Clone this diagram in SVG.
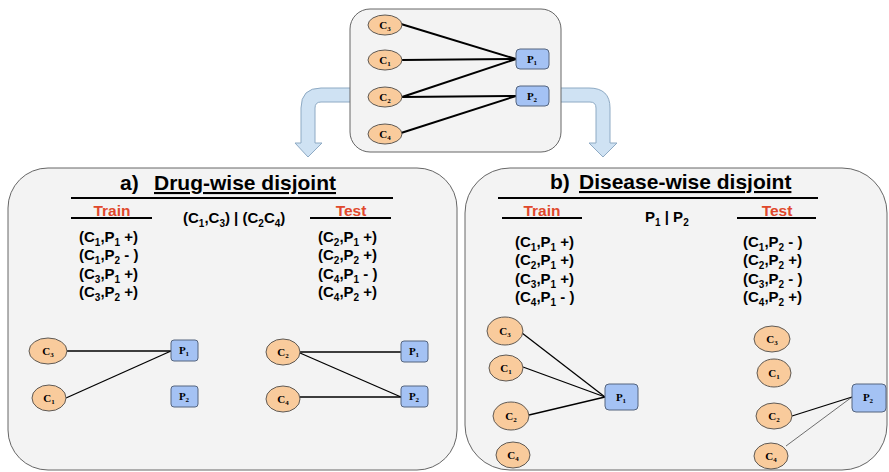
<svg xmlns="http://www.w3.org/2000/svg" width="889" height="472" viewBox="0 0 889 472">
<style>
.panel{fill:#f3f3f3;stroke:#666;stroke-width:1}
.arrow{fill:#cfe2f3;stroke:#8eaac4;stroke-width:1}
.ell{fill:#f9cb9c;stroke:#5f5a55;stroke-width:1}
.box{fill:#a4c2f4;stroke:#55657f;stroke-width:1}
.nl{font-family:"Liberation Serif","Times New Roman",serif;font-weight:bold;font-size:11px;fill:#000;text-anchor:middle}
.s{font-size:7px}
.lst{font-family:"Liberation Sans",Arial,sans-serif;font-weight:bold;font-size:15px;fill:#000}
.sb{font-size:10px}
.hdr{font-family:"Liberation Sans",Arial,sans-serif;font-weight:bold;font-size:21px;fill:#000}
.u{text-decoration:underline}
.red{font-family:"Liberation Sans",Arial,sans-serif;font-weight:bold;font-size:15.5px;fill:#e0482c;text-anchor:middle}
.rule{stroke:#000;stroke-width:2}
.e1{stroke:#000;stroke-width:2;fill:none}
.e2{stroke:#000;stroke-width:1.3;fill:none}
.e3{stroke:#333;stroke-width:0.7;fill:none}
</style>

<!-- panels and arrows -->
<g id="arrows">
<path class="arrow" d="M352,88 L321,88 Q301,88 301,108 L301,143 L295,143 L308,157 L322,143 L315,143 L315,108 Q315,102 321,102 L352,102 Z"/>
<path class="arrow" d="M559,88 L589,88 Q610,88 610,108 L610,143 L617,143 L603,157 L589,143 L596,143 L596,108 Q596,102 590,102 L559,102 Z"/>
</g>
<rect id="top-box" class="panel" x="350" y="9" width="211" height="143" rx="20"/>
<rect id="panel-a" class="panel" x="8" y="168" width="449" height="302" rx="40"/>
<rect id="panel-b" class="panel" x="465" y="168" width="422" height="302" rx="45"/>

<!-- connectors -->
<g id="connectors">
<line class="e1" x1="401" y1="24" x2="516" y2="59"/>
<line class="e1" x1="402" y1="60" x2="516" y2="59"/>
<line class="e1" x1="402" y1="97" x2="516" y2="59"/>
<line class="e1" x1="402" y1="97" x2="516" y2="96"/>
<line class="e1" x1="401" y1="133" x2="516" y2="96"/>

<line class="e2" x1="67" y1="351" x2="171" y2="351"/>
<line class="e2" x1="66" y1="398" x2="171" y2="351"/>
<line class="e2" x1="300" y1="352" x2="401" y2="352"/>
<line class="e2" x1="300" y1="353" x2="401" y2="397"/>
<line class="e2" x1="300" y1="397" x2="401" y2="397"/>

<line class="e2" x1="522" y1="333" x2="605" y2="397"/>
<line class="e2" x1="523" y1="367" x2="605" y2="397"/>
<line class="e2" x1="529" y1="415" x2="605" y2="397"/>
<line class="e2" x1="792" y1="416" x2="852" y2="397"/>
<line class="e3" x1="786" y1="446" x2="852" y2="397"/>
</g>

<!-- top graph nodes -->
<g id="top-C3"><ellipse class="ell" cx="385" cy="25" rx="17" ry="10"/><text class="nl" x="385" y="28.5">C<tspan class="s" dy="2">3</tspan></text></g>
<g id="top-C1"><ellipse class="ell" cx="385" cy="60" rx="17" ry="10"/><text class="nl" x="385" y="63.5">C<tspan class="s" dy="2">1</tspan></text></g>
<g id="top-C2"><ellipse class="ell" cx="385" cy="97" rx="17" ry="10"/><text class="nl" x="385" y="100.5">C<tspan class="s" dy="2">2</tspan></text></g>
<g id="top-C4"><ellipse class="ell" cx="385" cy="134" rx="17" ry="10"/><text class="nl" x="385" y="137.5">C<tspan class="s" dy="2">4</tspan></text></g>
<g id="top-P1"><rect class="box" x="516" y="49" width="33" height="20" rx="4"/><text class="nl" x="532" y="62.5">P<tspan class="s" dy="2">1</tspan></text></g>
<g id="top-P2"><rect class="box" x="516" y="86" width="33" height="20" rx="4"/><text class="nl" x="532" y="99.5">P<tspan class="s" dy="2">2</tspan></text></g>

<!-- panel a text -->
<g id="a-header">
<text class="hdr" x="120" y="190">a)</text>
<text class="hdr u" x="154" y="190">Drug-wise disjoint</text>
<line class="rule" x1="71" y1="198" x2="393" y2="198"/>
<text class="red" x="112" y="216">Train</text>
<line class="rule" x1="71" y1="218" x2="152" y2="218"/>
<text class="red" x="351" y="216">Test</text>
<line class="rule" x1="310" y1="218" x2="391" y2="218"/>
<text class="lst" x="183" y="223">(C<tspan class="sb" dy="4">1</tspan><tspan dy="-4">,C</tspan><tspan class="sb" dy="4">3</tspan><tspan dy="-4">) | (C</tspan><tspan class="sb" dy="4">2</tspan><tspan dy="-4">C</tspan><tspan class="sb" dy="4">4</tspan><tspan dy="-4">)</tspan></text>
</g>
<g id="a-train-list">
<text class="lst" x="79" y="242">(C<tspan class="sb" dy="4">1</tspan><tspan dy="-4">,P</tspan><tspan class="sb" dy="4">1</tspan><tspan dy="-4"> +)</tspan></text>
<text class="lst" x="79" y="260">(C<tspan class="sb" dy="4">1</tspan><tspan dy="-4">,P</tspan><tspan class="sb" dy="4">2</tspan><tspan dy="-4"> - )</tspan></text>
<text class="lst" x="79" y="279">(C<tspan class="sb" dy="4">3</tspan><tspan dy="-4">,P</tspan><tspan class="sb" dy="4">1</tspan><tspan dy="-4"> +)</tspan></text>
<text class="lst" x="79" y="297">(C<tspan class="sb" dy="4">3</tspan><tspan dy="-4">,P</tspan><tspan class="sb" dy="4">2</tspan><tspan dy="-4"> +)</tspan></text>
</g>
<g id="a-test-list">
<text class="lst" x="318" y="242">(C<tspan class="sb" dy="4">2</tspan><tspan dy="-4">,P</tspan><tspan class="sb" dy="4">1</tspan><tspan dy="-4"> +)</tspan></text>
<text class="lst" x="318" y="260">(C<tspan class="sb" dy="4">2</tspan><tspan dy="-4">,P</tspan><tspan class="sb" dy="4">2</tspan><tspan dy="-4"> +)</tspan></text>
<text class="lst" x="318" y="279">(C<tspan class="sb" dy="4">4</tspan><tspan dy="-4">,P</tspan><tspan class="sb" dy="4">1</tspan><tspan dy="-4"> - )</tspan></text>
<text class="lst" x="318" y="297">(C<tspan class="sb" dy="4">4</tspan><tspan dy="-4">,P</tspan><tspan class="sb" dy="4">2</tspan><tspan dy="-4"> +)</tspan></text>
</g>

<!-- panel a nodes -->
<g id="a-train-C3"><ellipse class="ell" cx="48" cy="351" rx="19" ry="13"/><text class="nl" x="48" y="354.5">C<tspan class="s" dy="2">3</tspan></text></g>
<g id="a-train-C1"><ellipse class="ell" cx="49" cy="398" rx="17" ry="13"/><text class="nl" x="49" y="401.5">C<tspan class="s" dy="2">1</tspan></text></g>
<g id="a-train-P1"><rect class="box" x="171" y="340" width="27" height="21" rx="3"/><text class="nl" x="184" y="353.5">P<tspan class="s" dy="2">1</tspan></text></g>
<g id="a-train-P2"><rect class="box" x="171" y="386" width="27" height="21" rx="3"/><text class="nl" x="184" y="399.5">P<tspan class="s" dy="2">2</tspan></text></g>
<g id="a-test-C2"><ellipse class="ell" cx="283" cy="352" rx="17" ry="13"/><text class="nl" x="283" y="355.5">C<tspan class="s" dy="2">2</tspan></text></g>
<g id="a-test-C4"><ellipse class="ell" cx="283" cy="399" rx="17" ry="13"/><text class="nl" x="283" y="402.5">C<tspan class="s" dy="2">4</tspan></text></g>
<g id="a-test-P1"><rect class="box" x="401" y="341" width="27" height="21" rx="3"/><text class="nl" x="414" y="354.5">P<tspan class="s" dy="2">1</tspan></text></g>
<g id="a-test-P2"><rect class="box" x="401" y="386" width="27" height="21" rx="3"/><text class="nl" x="414" y="399.5">P<tspan class="s" dy="2">2</tspan></text></g>

<!-- panel b text -->
<g id="b-header">
<text class="hdr" x="550" y="189">b)</text>
<text class="hdr u" x="579" y="189">Disease-wise disjoint</text>
<line class="rule" x1="498" y1="198" x2="818" y2="198"/>
<text class="red" x="542" y="216">Train</text>
<line class="rule" x1="502" y1="218" x2="582" y2="218"/>
<text class="red" x="777" y="216">Test</text>
<line class="rule" x1="737" y1="218" x2="816" y2="218"/>
<text class="lst" x="645" y="222">P<tspan class="sb" dy="4">1</tspan><tspan dy="-4"> | P</tspan><tspan class="sb" dy="4">2</tspan></text>
</g>
<g id="b-train-list">
<text class="lst" x="515" y="247">(C<tspan class="sb" dy="4">1</tspan><tspan dy="-4">,P</tspan><tspan class="sb" dy="4">1</tspan><tspan dy="-4"> +)</tspan></text>
<text class="lst" x="515" y="265">(C<tspan class="sb" dy="4">2</tspan><tspan dy="-4">,P</tspan><tspan class="sb" dy="4">1</tspan><tspan dy="-4"> +)</tspan></text>
<text class="lst" x="515" y="284">(C<tspan class="sb" dy="4">3</tspan><tspan dy="-4">,P</tspan><tspan class="sb" dy="4">1</tspan><tspan dy="-4"> +)</tspan></text>
<text class="lst" x="515" y="302">(C<tspan class="sb" dy="4">4</tspan><tspan dy="-4">,P</tspan><tspan class="sb" dy="4">1</tspan><tspan dy="-4"> - )</tspan></text>
</g>
<g id="b-test-list">
<text class="lst" x="743" y="247">(C<tspan class="sb" dy="4">1</tspan><tspan dy="-4">,P</tspan><tspan class="sb" dy="4">2</tspan><tspan dy="-4"> - )</tspan></text>
<text class="lst" x="743" y="265">(C<tspan class="sb" dy="4">2</tspan><tspan dy="-4">,P</tspan><tspan class="sb" dy="4">2</tspan><tspan dy="-4"> +)</tspan></text>
<text class="lst" x="743" y="284">(C<tspan class="sb" dy="4">3</tspan><tspan dy="-4">,P</tspan><tspan class="sb" dy="4">2</tspan><tspan dy="-4"> - )</tspan></text>
<text class="lst" x="743" y="302">(C<tspan class="sb" dy="4">4</tspan><tspan dy="-4">,P</tspan><tspan class="sb" dy="4">2</tspan><tspan dy="-4"> +)</tspan></text>
</g>

<!-- panel b nodes -->
<g id="b-train-C3"><ellipse class="ell" cx="505" cy="331" rx="18" ry="14"/><text class="nl" x="505" y="334.5">C<tspan class="s" dy="2">3</tspan></text></g>
<g id="b-train-C1"><ellipse class="ell" cx="506" cy="368" rx="17" ry="13"/><text class="nl" x="506" y="371.5">C<tspan class="s" dy="2">1</tspan></text></g>
<g id="b-train-C2"><ellipse class="ell" cx="511" cy="416" rx="18" ry="14"/><text class="nl" x="511" y="419.5">C<tspan class="s" dy="2">2</tspan></text></g>
<g id="b-train-C4"><ellipse class="ell" cx="513" cy="455" rx="17" ry="13"/><text class="nl" x="513" y="458.5">C<tspan class="s" dy="2">4</tspan></text></g>
<g id="b-train-P1"><rect class="box" x="605" y="384" width="33" height="26" rx="4"/><text class="nl" x="621" y="400.5">P<tspan class="s" dy="2">1</tspan></text></g>
<g id="b-test-C3"><ellipse class="ell" cx="772" cy="339" rx="18" ry="13"/><text class="nl" x="772" y="342.5">C<tspan class="s" dy="2">3</tspan></text></g>
<g id="b-test-C1"><ellipse class="ell" cx="774" cy="373" rx="17" ry="14"/><text class="nl" x="774" y="376.5">C<tspan class="s" dy="2">1</tspan></text></g>
<g id="b-test-C2"><ellipse class="ell" cx="774" cy="416" rx="18" ry="13"/><text class="nl" x="774" y="419.5">C<tspan class="s" dy="2">2</tspan></text></g>
<g id="b-test-C4"><ellipse class="ell" cx="771" cy="456" rx="17" ry="13"/><text class="nl" x="771" y="459.5">C<tspan class="s" dy="2">4</tspan></text></g>
<g id="b-test-P2"><rect class="box" x="852" y="384" width="34" height="28" rx="4"/><text class="nl" x="868" y="400.5">P<tspan class="s" dy="2">2</tspan></text></g>
</svg>
